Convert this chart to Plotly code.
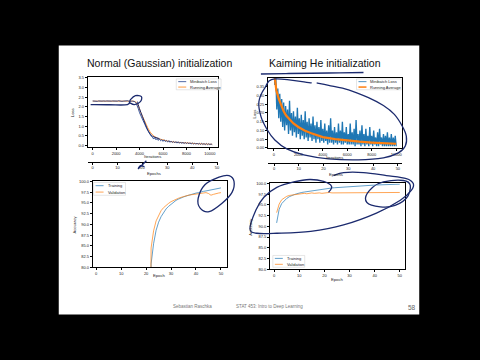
import plotly.graph_objects as go

W, H = 480, 360
def px(x): return x / W
def py(y): return 1 - y / H

# ---------------- data ----------------
# Normal (Gaussian) init: minibatch loss, sampled every 100 iterations
loss_normal = [2.31, 2.30, 2.32, 2.30, 2.29, 2.31, 2.30, 2.32, 2.30, 2.31, 2.29, 2.30,
               2.31, 2.30, 2.32, 2.29, 2.30, 2.31, 2.30, 2.29, 2.31, 2.30, 2.32, 2.30,
               2.31, 2.29, 2.30, 2.31, 2.30, 2.30, 2.32, 2.29, 2.31, 2.30, 2.30, 2.29,
               2.27, 2.21, 2.08, 1.90, 1.70, 1.55, 1.42, 1.28, 1.16, 1.02, 0.90, 0.78,
               0.66, 0.57, 0.48,
               0.44, 0.34, 0.41, 0.30, 0.37, 0.27, 0.35, 0.25, 0.31, 0.22, 0.30, 0.21,
               0.27, 0.18, 0.26, 0.17, 0.24, 0.16, 0.22, 0.14, 0.21, 0.13, 0.20, 0.12,
               0.19, 0.11, 0.18, 0.10, 0.17, 0.10, 0.16, 0.09, 0.15, 0.08, 0.14, 0.08,
               0.13, 0.07, 0.13, 0.07, 0.12, 0.06, 0.12, 0.06, 0.11, 0.05, 0.11, 0.05,
               0.10, 0.05, 0.09, 0.05]
iters_normal = list(range(0, 100 * len(loss_normal), 100))

avg_iters_normal = [0, 500, 1000, 1500, 2000, 2500, 3000, 3500, 3700, 3900, 4100, 4300,
                    4500, 4700, 4900, 5200, 5600, 6000, 6500, 7000, 7500, 8000, 8500,
                    9000, 9500, 10000, 10200]
avg_normal = [2.30, 2.30, 2.30, 2.30, 2.30, 2.30, 2.30, 2.30, 2.25, 2.05, 1.72, 1.42,
              1.16, 0.92, 0.70, 0.50, 0.36, 0.28, 0.22, 0.18, 0.15, 0.13, 0.11,
              0.095, 0.085, 0.075, 0.07]

# Kaiming He init: minibatch loss, sampled every 80 iterations
loss_kaiming = [0.48, 0.36, 0.40, 0.22, 0.34, 0.17, 0.31, 0.15, 0.28, 0.12,
                0.26, 0.10, 0.24, 0.13, 0.22, 0.08, 0.27, 0.10, 0.20, 0.07,
                0.21, 0.09, 0.18, 0.06, 0.23, 0.08, 0.17, 0.05, 0.19, 0.07,
                0.16, 0.05, 0.21, 0.06, 0.15, 0.04, 0.17, 0.06, 0.14, 0.04,
                0.18, 0.05, 0.13, 0.03, 0.15, 0.05, 0.12, 0.03, 0.16, 0.04,
                0.11, 0.03, 0.14, 0.04, 0.10, 0.02, 0.13, 0.03, 0.17, 0.03,
                0.10, 0.02, 0.12, 0.03, 0.09, 0.02, 0.14, 0.03, 0.10, 0.02,
                0.15, 0.02, 0.09, 0.03, 0.12, 0.02, 0.08, 0.02, 0.14, 0.02,
                0.09, 0.02, 0.11, 0.01, 0.16, 0.02, 0.08, 0.02, 0.10, 0.01,
                0.13, 0.02, 0.08, 0.01, 0.11, 0.02, 0.07, 0.01, 0.12, 0.02,
                0.07, 0.01, 0.10, 0.02, 0.06, 0.01, 0.09, 0.01, 0.11, 0.02,
                0.06, 0.01, 0.08, 0.01, 0.07, 0.01, 0.09, 0.01, 0.06, 0.01,
                0.08, 0.01, 0.06, 0.01, 0.07, 0.01]
iters_kaiming = list(range(0, 80 * len(loss_kaiming), 80))

avg_iters_kaiming = [80, 200, 400, 600, 800, 1000, 1300, 1600, 2000, 2500, 3000, 3500,
                     4000, 5000, 6000, 7000, 8000, 9000, 10000]
avg_kaiming = [0.40, 0.33, 0.28, 0.24, 0.21, 0.185, 0.16, 0.14, 0.12, 0.10, 0.085,
               0.072, 0.062, 0.05, 0.042, 0.036, 0.031, 0.027, 0.024]

epochs = list(range(1, 51))
train_normal = [11.2, 11.3, 11.2, 11.2, 11.3, 11.2, 11.2, 11.3, 11.2, 11.2,
                11.3, 11.2, 11.2, 11.3, 11.2, 11.2, 11.3, 11.2, 11.2, 11.3,
                11.4, 80.8, 85.5, 88.6, 90.5, 91.8, 92.8, 93.6, 94.2, 94.7,
                95.2, 95.6, 95.9, 96.2, 96.4, 96.6, 96.8, 97.0, 97.1, 97.3,
                97.4, 97.6, 97.7, 97.8, 97.9, 98.0, 98.1, 98.2, 98.3, 98.5]
valid_normal = [11.4, 11.4, 11.4, 11.4, 11.4, 11.4, 11.4, 11.4, 11.4, 11.4,
                11.4, 11.4, 11.4, 11.4, 11.4, 11.4, 11.4, 11.4, 11.4, 11.4,
                11.5, 84.5, 88.5, 90.8, 92.2, 93.2, 93.9, 94.5, 94.9, 95.3,
                95.6, 95.9, 96.1, 96.3, 96.5, 96.6, 96.8, 96.9, 97.0, 97.1,
                97.2, 97.3, 97.3, 97.4, 97.2, 96.8, 97.0, 97.2, 97.3, 97.4]
train_kaiming = [90.8, 94.0, 95.3, 96.0, 96.5, 96.9, 97.2, 97.4, 97.6, 97.8,
                 97.9, 98.0, 98.1, 98.2, 98.3, 98.4, 98.5, 98.6, 98.7, 98.75,
                 98.8, 98.9, 98.95, 99.0, 99.05, 99.1, 99.15, 99.2, 99.25, 99.3,
                 99.35, 99.4, 99.42, 99.45, 99.5, 99.52, 99.55, 99.58, 99.6, 99.62,
                 99.65, 99.67, 99.7, 99.72, 99.74, 99.76, 99.78, 99.8, 99.82, 99.84]
valid_kaiming = [93.2, 95.2, 96.2, 96.7, 97.0, 97.2, 97.3, 97.4, 97.5, 97.55,
                 97.6, 97.7, 97.6, 97.7, 97.8, 97.7, 97.8, 97.8, 97.7, 97.8,
                 97.8, 97.9, 97.8, 97.8, 97.9, 97.8, 97.9, 97.9, 97.8, 97.9,
                 97.9, 97.8, 97.9, 97.9, 97.9, 97.8, 97.9, 97.9, 97.9, 97.8,
                 97.9, 97.9, 97.9, 97.9, 97.8, 97.9, 97.9, 97.9, 97.9, 97.9]

iter_ticks = [0, 2000, 4000, 6000, 8000, 10000]
epoch_ticks = [0, 10, 20, 30, 40, 50]
loss_ticks_normal = [0.0, 0.5, 1.0, 1.5, 2.0, 2.5, 3.0, 3.5]
loss_ticks_kaiming = [0.00, 0.05, 0.10, 0.15, 0.20, 0.25, 0.30, 0.35]
acc_ticks = [80.0, 82.5, 85.0, 87.5, 90.0, 92.5, 95.0, 97.5, 100.0]

BLUE = '#1f77b4'
NAVY = '#26448f'
ORANGE = '#ff7f0e'
INK = '#1b2a6e'
FONT = 'Liberation Sans, Arial, sans-serif'

fig = go.Figure()
fig.add_trace(go.Scatter(x=avg_iters_normal, y=avg_normal, mode='lines',
                         line=dict(color=ORANGE, width=0.8), xaxis='x', yaxis='y'))
fig.add_trace(go.Scatter(x=iters_normal, y=loss_normal, mode='lines',
                         line=dict(color=NAVY, width=0.9), xaxis='x', yaxis='y'))
fig.add_trace(go.Scatter(x=iters_kaiming, y=loss_kaiming, mode='lines',
                         line=dict(color=BLUE, width=1.35), xaxis='x2', yaxis='y2'))
fig.add_trace(go.Scatter(x=avg_iters_kaiming, y=avg_kaiming, mode='lines',
                         line=dict(color=ORANGE, width=2.2), xaxis='x2', yaxis='y2'))
fig.add_trace(go.Scatter(x=epochs, y=train_normal, mode='lines',
                         line=dict(color=BLUE, width=0.7), xaxis='x3', yaxis='y3'))
fig.add_trace(go.Scatter(x=epochs, y=valid_normal, mode='lines',
                         line=dict(color=ORANGE, width=0.7), xaxis='x3', yaxis='y3'))
fig.add_trace(go.Scatter(x=epochs, y=train_kaiming, mode='lines',
                         line=dict(color=BLUE, width=0.7), xaxis='x4', yaxis='y4'))
fig.add_trace(go.Scatter(x=epochs, y=valid_kaiming, mode='lines',
                         line=dict(color=ORANGE, width=0.7), xaxis='x4', yaxis='y4'))
# empty traces so that the secondary "Epochs" axes are drawn
fig.add_trace(go.Scatter(x=[0], y=[None], mode='lines', xaxis='x5', yaxis='y',
                         hoverinfo='skip'))
fig.add_trace(go.Scatter(x=[0], y=[None], mode='lines', xaxis='x6', yaxis='y2',
                         hoverinfo='skip'))

ax = dict(showline=True, mirror=True, linecolor='black', linewidth=0.6,
          ticks='outside', ticklen=2, tickwidth=0.5, tickcolor='black',
          tickfont=dict(size=4, color='#222', family=FONT), showgrid=False,
          zeroline=False, fixedrange=True)

def xa(x0, x1, rng, tickvals, anchor, fmt=None):
    d = dict(ax, domain=[px(x0), px(x1)], range=rng, tickvals=tickvals, anchor=anchor)
    if fmt:
        d['ticktext'] = [fmt(v) for v in tickvals]
    return d

def ya(y0, y1, rng, tickvals, anchor, fmt):
    return dict(ax, domain=[py(y1), py(y0)], range=rng, tickvals=tickvals,
                ticktext=[fmt(v) for v in tickvals], anchor=anchor)

f1 = lambda v: f'{v:.1f}'
f2 = lambda v: f'{v:.2f}'
fi = lambda v: f'{v:d}'

layout = dict(
    width=W, height=H, margin=dict(l=0, r=0, t=0, b=0),
    paper_bgcolor='black', plot_bgcolor='white', showlegend=False,
    xaxis=xa(88, 219, [-430, 10700], iter_ticks, 'y', fi),
    yaxis=ya(75, 146, [-0.07, 3.55], loss_ticks_normal, 'x', f1),
    xaxis2=xa(269, 404, [-490, 10500], iter_ticks, 'y2', fi),
    yaxis2=ya(76, 147, [0.0, 0.40], loss_ticks_kaiming, 'x2', f2),
    xaxis3=xa(93, 228, [-1.45, 52.45], epoch_ticks, 'y3', fi),
    yaxis3=ya(181, 268, [80, 100], acc_ticks, 'x3', f1),
    xaxis4=xa(271, 407, [-1.7, 52.2], epoch_ticks, 'y4', fi),
    yaxis4=ya(183, 270, [80, 100], acc_ticks, 'x4', f1),
    xaxis5=dict(ax, mirror=False, overlaying='x', anchor='free', position=py(161),
                range=[-2, 50.4], tickvals=epoch_ticks, side='bottom'),
    xaxis6=dict(ax, mirror=False, overlaying='x2', anchor='free', position=py(162),
                range=[-2.5, 51.8], tickvals=epoch_ticks, side='bottom'),
)
fig.update_layout(**layout)

shapes = []
annotations = []

# slide background
shapes.append(dict(type='rect', xref='paper', yref='paper', x0=px(59), x1=px(421),
                   y0=py(316), y1=py(43), fillcolor='white', line=dict(width=0), layer='below'))

def text(x, y, s, size=4.2, color='#222', angle=0, anchor='center'):
    annotations.append(dict(x=px(x), y=py(y), xref='paper', yref='paper', text=s,
                            showarrow=False, textangle=angle, xanchor=anchor, yanchor='middle',
                            font=dict(size=size, color=color, family=FONT)))

# titles
text(160, 61, 'Normal (Gaussian) initialization', size=10.5, color='#111')
text(326, 61, 'Kaiming He initialization', size=10.5, color='#111')

# axis labels
text(73, 111, 'Loss', angle=-90)
text(256, 112, 'Loss', angle=-90)
text(153, 156, 'Iterations')
text(336, 157, 'Iterations')
text(155, 173, 'Epochs')
text(337, 174, 'Epochs')
text(75, 225, 'Accuracy', angle=-90)
text(252, 227, 'Accuracy', angle=-90)
text(160, 276, 'Epoch')
text(339, 280, 'Epoch')

# legends (drawn manually)
def legend(x0, y0, x1, y1, entries):
    shapes.append(dict(type='rect', xref='paper', yref='paper', x0=px(x0), x1=px(x1),
                       y0=py(y1), y1=py(y0), fillcolor='rgba(255,255,255,0.85)',
                       line=dict(color='#cccccc', width=0.5)))
    n = len(entries)
    for i, (label, color, w) in enumerate(entries):
        yy = y0 + (y1 - y0) * (i + 0.5) / n
        shapes.append(dict(type='line', xref='paper', yref='paper', x0=px(x0 + 2),
                           x1=px(x0 + 10), y0=py(yy), y1=py(yy), line=dict(color=color, width=w)))
        text(x0 + 12, yy, label, size=4, anchor='left')

legend(177, 77, 222, 88, [('Minibatch Loss', NAVY, 0.8), ('Running Average', ORANGE, 0.8)])
legend(358, 77, 403, 88, [('Minibatch Loss', BLUE, 0.8), ('Running Average', ORANGE, 1.5)])
legend(94, 182, 126, 195, [('Training', BLUE, 0.7), ('Validation', ORANGE, 0.7)])
legend(274, 256, 306, 268, [('Training', BLUE, 0.7), ('Validation', ORANGE, 0.7)])

# footer
text(193, 308, 'Sebastian Raschka', size=4.5, color='#777')
text(271, 308, 'STAT 453: Intro to Deep Learning', size=4.5, color='#777')
text(414, 309, '58', size=6.5, color='#666')

# hand-drawn ink annotations (pixel positions)
def ink(pts, closed=False, width=1.3):
    P = [(px(x), py(y)) for x, y in pts]
    n = len(P)
    d = f'M {P[0][0]:.5f},{P[0][1]:.5f}'
    segs = n if closed else n - 1
    for i in range(segs):
        if closed:
            p0, p1, p2, p3 = P[(i - 1) % n], P[i], P[(i + 1) % n], P[(i + 2) % n]
        else:
            p0 = P[i - 1] if i > 0 else P[i]
            p1, p2 = P[i], P[i + 1]
            p3 = P[i + 2] if i + 2 < n else P[i + 1]
        c1 = (p1[0] + (p2[0] - p0[0]) / 6, p1[1] + (p2[1] - p0[1]) / 6)
        c2 = (p2[0] - (p3[0] - p1[0]) / 6, p2[1] - (p3[1] - p1[1]) / 6)
        d += f' C {c1[0]:.5f},{c1[1]:.5f} {c2[0]:.5f},{c2[1]:.5f} {p2[0]:.5f},{p2[1]:.5f}'
    if closed:
        d += ' Z'
    shapes.append(dict(type='path', xref='paper', yref='paper', path=d,
                       line=dict(color=INK, width=width)))

ink_strokes = [
    # plateau underline + loop (top-left)
    ([(91, 103), (110, 103.2), (128, 103), (131, 98), (136, 94), (142, 95), (141, 100), (135, 103), (130, 101)], False, 1.3),
    # tracing along the drop (top-left)
    ([(138, 100), (140, 107), (143, 115), (146, 123), (149, 130), (153, 135), (160, 137.5)], False, 1.0),
    # scribble near epoch axis (top-left)
    ([(147, 160), (143, 164), (139, 168), (141, 165), (145, 166)], False, 1.3),
    # underline Kaiming title
    ([(262, 72), (290, 71.5), (330, 71), (365, 70.5)], False, 1.3),
    # big loop around Kaiming loss
    ([(313, 81), (276, 77), (266, 86), (260, 100), (262, 115), (268, 128), (276, 139), (288, 148),
      (305, 154), (330, 158), (360, 159), (385, 157), (400, 152), (407, 145), (408, 135),
      (404, 125), (396, 113), (385, 104), (370, 96), (350, 88), (330, 83.5), (318, 81)], False, 1.3),
    # circle bottom-left
    ([(199, 198), (206, 184), (220, 176.5), (230, 175), (235, 181), (233, 192), (223, 203),
      (210, 211.5), (201, 208)], True, 1.3),
    # big loop bottom-right
    ([(330, 192), (333, 186), (325, 181), (311, 179), (295, 181.5), (278, 187), (265, 197),
      (257, 210), (251, 229), (258, 233.5), (278, 233.5), (312, 231.5), (345, 225), (378, 213),
      (402, 200), (413, 190), (415, 183), (408, 178), (388, 175), (365, 172), (345, 172), (335, 175)], False, 1.3),
    # small circle bottom-right
    ([(367, 198), (374, 187), (385, 181.5), (405, 180), (412, 185), (408, 198), (392, 206.5),
      (373, 205)], True, 1.3),
]
for pts, closed, w in ink_strokes:
    ink(pts, closed, w)

fig.update_layout(shapes=shapes, annotations=annotations)
fig.write_html('out.html', config={'displayModeBar': False},
               post_script="document.body.style.margin='0px';document.body.style.overflow='hidden';")
